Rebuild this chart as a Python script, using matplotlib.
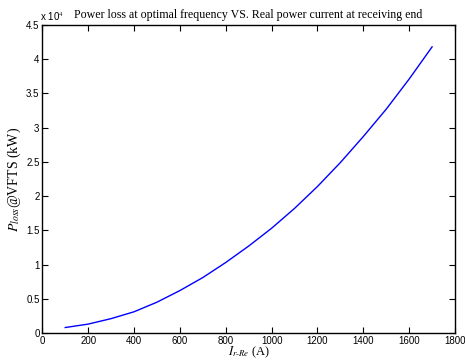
import matplotlib
matplotlib.use("Agg")
import matplotlib.pyplot as plt
from matplotlib.ticker import FuncFormatter, MultipleLocator

# Data
current_A = [100, 200, 300, 400, 500, 600, 700, 800, 900, 1000,
             1100, 1200, 1300, 1400, 1500, 1600, 1700]
ploss_kW = [800, 1300, 2100, 3100, 4500, 6200, 8100, 10300, 12700, 15300,
            18200, 21400, 24900, 28700, 32700, 37100, 41800]

title = "Power loss at optimal frequency VS. Real power current at receiving end"

plt.rcParams['mathtext.fontset'] = 'stix'

fig = plt.figure(figsize=(4.65, 3.6), dpi=100)
ax = fig.add_axes([0.091, 0.075, 0.8875, 0.8556])

ax.plot(current_A, ploss_kW, color=(0, 0, 1), lw=1.0)

ax.set_xlim(0, 1800)
ax.set_ylim(0, 45000)
ax.xaxis.set_major_locator(MultipleLocator(200))
ax.yaxis.set_major_locator(MultipleLocator(5000))
ax.yaxis.set_major_formatter(FuncFormatter(lambda v, p: "%g" % (v / 1e4)))

ax.tick_params(direction='in', top=True, right=True, length=4, width=0.8,
               labelsize=7, pad=2)
for lab in ax.get_xticklabels() + ax.get_yticklabels():
    lab.set_fontfamily('Liberation Sans')
for s in ax.spines.values():
    s.set_linewidth(1.0)

ax.text(-0.005, 1.005, r"x 10$^{4}$", transform=ax.transAxes, fontsize=7,
        family='Liberation Sans', ha='left', va='bottom')

ax.set_title(title, fontsize=8.6, family='Liberation Serif', pad=5)
ax.set_xlabel(r"$I_{r\text{-}Re}$ (A)", fontsize=9, family='Liberation Serif', labelpad=-1)
ax.set_ylabel(r"$P_{loss}$@VFTS (kW)", fontsize=10, family='Liberation Serif', labelpad=2)

fig.savefig("out.png", dpi=100)
